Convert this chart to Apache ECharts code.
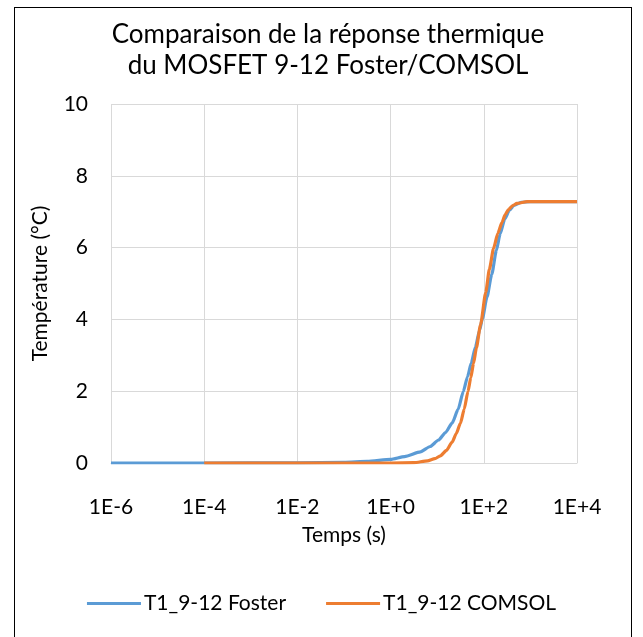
<!DOCTYPE html>
<html>
<head>
<meta charset="utf-8">
<script src="https://cdn.jsdelivr.net/npm/echarts@6/dist/echarts.min.js"></script>
<style>
html,body{margin:0;padding:0;background:#fff;}
#frame{position:absolute;left:14px;top:7px;width:618px;height:640px;border:1.5px solid #000;box-sizing:border-box;}
#chart{position:absolute;left:0;top:0;width:643px;height:637px;}
</style>
</head>
<body>
<div id="frame"></div>
<div id="chart"></div>
<script>
const titleLines = ["Comparaison de la réponse thermique", "du MOSFET 9-12 Foster/COMSOL"];
const xAxisName = "Temps (s)";
const yAxisName = "Température (°C)";
const seriesNames = ["T1_9-12 Foster", "T1_9-12 COMSOL"];

const fosterTime = [1e-6, 1e-4, 1e-2, 0.1, 0.316, 1, 2.0, 4.37, 7.08, 10.7, 15.1, 20.9, 28.2, 36.3, 44.7, 53.7, 66.1, 81.3, 93.3, 117, 148, 186, 224, 282, 355, 447, 631, 1000, 10000];
const fosterTemp = [0, 0, 0.005, 0.02, 0.045, 0.1, 0.18, 0.31, 0.46, 0.64, 0.85, 1.11, 1.5, 1.99, 2.4, 2.78, 3.23, 3.7, 4.02, 4.62, 5.25, 5.92, 6.38, 6.8, 7.04, 7.18, 7.26, 7.28, 7.28];

const comsolTime = [1e-4, 1, 3.16, 6.17, 8.91, 11.7, 15.8, 20.9, 25.7, 31.6, 38.0, 45.7, 52.5, 60.3, 69.2, 85.1, 110, 132, 162, 200, 245, 288, 339, 417, 513, 851, 10000];
const comsolTemp = [0, 0, 0.01, 0.06, 0.12, 0.2, 0.35, 0.58, 0.82, 1.11, 1.5, 1.99, 2.37, 2.78, 3.2, 3.85, 4.75, 5.4, 5.98, 6.4, 6.7, 6.92, 7.06, 7.17, 7.23, 7.28, 7.28];

const FONT = 'Lato, "Open Sans", sans-serif';

function fmtExp(v) {
  const e = Math.round(Math.log10(v));
  return '1E' + (e >= 0 ? '+' : '-') + Math.abs(e);
}

const chart = echarts.init(document.getElementById('chart'));
chart.setOption({
  animation: false,
  backgroundColor: 'transparent',
  title: {
    text: titleLines.join('\n'),
    left: 323, top: 14, textAlign: 'center',
    textStyle: { fontFamily: FONT, fontSize: 26, fontWeight: 'normal', color: '#000', lineHeight: 31 }
  },
  grid: { left: 111, right: 66, top: 104, bottom: 174 },
  legend: {
    top: 588, left: 'center',
    itemWidth: 54, itemHeight: 3, itemGap: 40, icon: 'rect',
    textStyle: { fontFamily: FONT, fontSize: 21, color: '#000', padding: [0, 0, 0, -2] },
    data: seriesNames
  },
  xAxis: {
    type: 'log', logBase: 100, min: 1e-6, max: 1e4,
    name: xAxisName, nameLocation: 'middle', nameGap: 62,
    nameTextStyle: { fontFamily: FONT, fontSize: 21, color: '#000' },
    axisLine: { show: true, lineStyle: { color: '#D9D9D9', width: 1 } },
    axisTick: { show: false },
    minorTick: { show: false },
    splitLine: { show: true, lineStyle: { color: '#D9D9D9', width: 1 } },
    axisLabel: { formatter: fmtExp, margin: 34, fontFamily: FONT, fontSize: 21, color: '#000' }
  },
  yAxis: {
    type: 'value', min: 0, max: 10, interval: 2,
    name: yAxisName, nameLocation: 'middle', nameGap: 60,
    nameTextStyle: { fontFamily: FONT, fontSize: 21, color: '#000' },
    axisLine: { show: false }, axisTick: { show: false },
    splitLine: { lineStyle: { color: '#D9D9D9', width: 1 } },
    axisLabel: { margin: 23, fontFamily: FONT, fontSize: 21, color: '#000' }
  },
  series: [
    {
      name: seriesNames[0], type: 'line', symbol: 'none', smooth: 0.2, smoothMonotone: 'x',
      lineStyle: { color: '#5B9BD5', width: 3.2 }, itemStyle: { color: '#5B9BD5' },
      data: fosterTime.map((t, i) => [t, fosterTemp[i]])
    },
    {
      name: seriesNames[1], type: 'line', symbol: 'none', smooth: 0.2, smoothMonotone: 'x',
      lineStyle: { color: '#ED7D31', width: 3.2 }, itemStyle: { color: '#ED7D31' },
      data: comsolTime.map((t, i) => [t, comsolTemp[i]])
    }
  ]
});
</script>
</body>
</html>
